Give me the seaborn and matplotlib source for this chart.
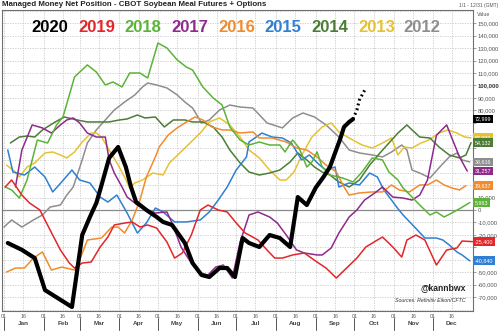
import matplotlib
matplotlib.use("Agg")
import matplotlib.pyplot as plt
import seaborn as sns
import numpy as np

sns.set_style("white")
plt.rcParams['font.family'] = ['Liberation Sans', 'DejaVu Sans']

# ---------------- data (day of year, value in thousands of contracts) ----------------
d2020 = [3, 14, 24, 32, 53, 61, 67, 72, 75, 82, 89, 95, 99, 103, 111, 119, 124, 131, 141, 147,
         154, 160, 168, 174, 180, 186, 191, 199, 207, 215, 223, 229, 236, 243, 249, 254, 258,
         262, 265, 269, 272]
v2020 = [-26.5, -32, -38.6, -64.3, -77.9, -20.1, -5.6, 5.6, 16.1, 41.8, 50.6, 34.5, 18.5, 6.4,
         0, -5.6, -9.6, -12, -26.5, -42.6, -52.2, -53.8, -46.6, -46.6, -53.8, -22.5, -26.5,
         -29.7, -20.1, -22.5, -29.7, 10.4, 4, 18, 26.5, 34.5, 45.8, 57, 66.7, 70.7, 73.0]
d2020_proj = [272, 275, 277, 282]
v2020_proj = [73.0, 80.3, 88.4, 98]

d2019 = [1, 6, 14, 20, 28, 36, 44, 51, 55, 61, 68, 75, 81, 86, 94, 100, 106, 112, 119, 127, 133,
         139, 146, 153, 159, 167, 174, 181, 188, 191, 198, 205, 211, 217, 225, 234, 244, 251,
         259, 267, 275, 282, 291, 295, 303, 310, 314, 321, 328, 337, 345, 353, 357, 365]
v2019 = [18.5, 24.1, 12, 5.6, 0, -16.1, -32.1, -42.6, -46.6, -42.6, -41.8, -29.7, -21.7, -12,
         -10.5, -9.6, -13.7, -12, -14.5, -25.7, -38.6, -34.5, -20.1, 0, 4, 0, -1.6, -10.4, -18.5,
         -20.1, -24.1, -32.1, -38.6, -38.6, -36.1, -34.5, -41.8, -46.6, -54.6, -46.6, -38.6,
         -29.7, -24.1, -21.7, -29.7, -37.8, -24.1, -20.1, -24.1, -44.2, -32.1, -30.5, -24.9, -25.4]

d2018 = [1, 6, 12, 18, 26, 34, 41, 46, 51, 55, 65, 72, 79, 85, 92, 98, 106, 112, 120, 127, 135,
         142, 147, 155, 163, 170, 176, 184, 191, 199, 207, 215, 219, 225, 230, 236, 240, 244,
         248, 254, 264, 272, 279, 287, 295, 300, 307, 311, 318, 324, 332, 337, 343, 349, 356, 363]
v2018 = [18.5, 16.1, 9.6, 24.1, 56.2, 53.8, 68.3, 74.7, 92.4, 106.8, 116.5, 110.8, 100.4, 102.8,
         98.8, 110, 110, 106, 134.1, 130.1, 120.5, 114.9, 112.4, 98.8, 90, 84.3, 66.7, 56.2, 52.2,
         54.6, 52.2, 52.2, 46.6, 56.2, 49.8, 34.5, 38.6, 46.6, 34.5, 28.1, 25.7, 22.5, 30.5, 41.8,
         40.2, 30.5, 24.1, 17.7, 10.4, 4, -4, -1.6, -5.6, -2.4, 1.6, 5.963]

d2017 = [9, 14, 22, 30, 37, 44, 49, 54, 59, 65, 72, 79, 82, 86, 92, 96, 104, 111, 118, 127, 131,
         138, 146, 153, 159, 165, 171, 178, 184, 189, 191, 198, 207, 213, 220, 228, 234, 244,
         248, 255, 261, 269, 275, 281, 289, 295, 303, 311, 318, 324, 330, 337, 345, 349, 355, 361]
v2017 = [18.5, 48.2, 68.3, 65.9, 61.8, 68.3, 72.3, 73.9, 69.9, 61.8, 58.6, 58.6, 40.2, 29.7,
         18.5, 10.4, 4, 0, -2.4, -1.6, -10.4, -29.7, -42.6, -50.6, -52.2, -45.8, -44.2, -54.6,
         -25.7, -10.4, -4, -1.6, -5.6, -10.4, -20.1, -32.1, -34.5, -36.1, -36.1, -30.5, -18.5,
         -5.6, 0, 8, 13.7, 18.5, 10.4, 9.6, 8, 12, 24, 60, 68.3, 57.8, 42.6, 31.257]

d2016 = [2, 9, 16, 23, 30, 37, 45, 55, 59, 65, 76, 84, 89, 94, 100, 106, 111, 118, 121, 128, 135,
         141, 149, 155, 162, 170, 176, 184, 194, 199, 209, 220, 228, 236, 244, 251, 259, 265,
         269, 277, 287, 295, 302, 308, 316, 324, 330, 337, 343, 349, 355, 360]
v2016 = [-49.8, -46.6, -46.6, -38.6, -33.7, -48.2, -45.8, -48.2, -40.2, -24.1, -22.5, -13.7,
         -13.7, -18.5, -8, 8, 26.5, 42.6, 50.6, 60.2, 65.9, 69.9, 74.7, 72.3, 66.7, 64.3, 64.3,
         61.8, 62.7, 57.8, 57.8, 54.6, 49.8, 48.2, 42.6, 36.1, 30.5, 18.5, 12, 13.7, 14.5, 14.5,
         20.1, 16.1, 14.5, 20.1, 20.1, 24.1, 20.1, 17.7, 16.1, 19.637]

d2015 = [3, 7, 16, 24, 32, 38, 45, 53, 59, 67, 75, 81, 88, 96, 104, 111, 118, 124, 133, 142, 153,
         160, 167, 174, 181, 189, 191, 201, 209, 217, 224, 232, 238, 246, 251, 258, 261, 269,
         277, 285, 291, 296, 302, 306, 311, 320, 328, 337, 342, 347, 353, 357, 363]
v2015 = [48.2, 30.5, 28.1, 34.5, 26.5, 14.5, 22.5, 32.1, 24.1, 21.7, 10.4, 6.4, 12, -2.4, -18.5,
         -10.4, 1.6, -1.6, -9.6, -9.6, -8, -1.6, 8, 18.5, 32.1, 42.6, 54.6, 61.8, 58.6, 57.8,
         53.8, 40.2, 44.2, 36.1, 32.1, 34.5, 18.5, 21.7, 20.1, 29.7, 26.5, 16.1, 8, 2.4, -4,
         -13.7, -22.5, -22.5, -24.1, -28.1, -33.7, -36.1, -40.84]

d2014 = [5, 12, 18, 24, 30, 40, 47, 57, 65, 75, 82, 90, 96, 104, 110, 118, 125, 132, 141, 147,
         155, 163, 170, 176, 184, 191, 199, 207, 215, 223, 229, 236, 242, 248, 254, 261, 269,
         277, 285, 293, 300, 307, 314, 318, 324, 332, 339, 347, 355, 360, 364]
v2014 = [53.8, 58.6, 59.4, 58.6, 64.3, 70.7, 74.7, 72.3, 70.7, 70.7, 70.7, 72.3, 73.1, 76.3,
         73.9, 74.7, 66.7, 72.3, 72.3, 70.7, 70.7, 66.7, 58.6, 48.2, 37.8, 30.5, 28.1, 29.7,
         32.1, 38.6, 45.8, 40.2, 34.5, 30.5, 28.1, 22.5, 18.5, 24.1, 36.1, 45.8, 53.8, 61.8,
         68.3, 64.3, 58.6, 57.8, 50.6, 44.2, 41.8, 44.2, 54.132]

d2013 = [2, 9, 12, 18, 24, 32, 38, 44, 49, 55, 61, 68, 72, 76, 82, 89, 94, 98, 102, 108, 116, 124,
         129, 137, 145, 153, 160, 168, 176, 184, 191, 199, 207, 215, 220, 226, 233, 240, 248,
         255, 261, 269, 279, 287, 295, 302, 307, 312, 318, 325, 331, 339, 346, 353, 359, 364]
v2013 = [36.1, 30.5, 26.5, 34.5, 37.8, 45.8, 46.6, 44.2, 41.8, 46.6, 54.6, 61.8, 61.8, 58.6,
         48.2, 36.1, 26.5, 17.7, 21.7, 24.1, 29.7, 28.1, 37.8, 45.8, 53.8, 61.8, 70.7, 73.9,
         68.3, 58.6, 48.2, 41.8, 32.1, 24.1, 24.1, 30.5, 45.8, 58.6, 66.7, 69.9, 62.7, 57.8,
         52.2, 49.8, 53.8, 57.8, 44.2, 50.6, 49.8, 53.8, 56.2, 61.8, 64.3, 61.8, 58.6, 57.931]

d2012 = [0, 6, 14, 23, 30, 36, 44, 49, 54, 61, 65, 72, 79, 86, 94, 102, 108, 112, 119, 127, 135,
         141, 147, 154, 160, 168, 176, 184, 194, 205, 217, 225, 233, 242, 251, 261, 269, 277,
         287, 295, 302, 310, 314, 318, 324, 332, 334, 341, 347, 353, 357, 363]
v2012 = [-13.7, -8, -13.7, -8, -4, 2.4, 4, 12, 18.5, 40.2, 53.8, 64.3, 72.3, 80.3, 86.7, 92.4,
         98.8, 102, 100.4, 98, 92.4, 86.7, 81.9, 69.9, 72.3, 80.3, 84.3, 82.7, 81.9, 69.9, 65.9,
         73.9, 77.9, 74.7, 68.3, 58.6, 48.2, 45.8, 44.2, 42.6, 46.6, 52.2, 48.2, 32.1, 29.7,
         25.7, 28.1, 36.1, 42.6, 45.8, 40.2, 38.6]

years = ["2020", "2019", "2018", "2017", "2016", "2015", "2014", "2013", "2012"]
colors = {"2020": "#000000", "2019": "#e3262a", "2018": "#5cb338", "2017": "#8e2a8c",
          "2016": "#f08c2e", "2015": "#2f7fd3", "2014": "#4b7d36", "2013": "#e6c233",
          "2012": "#8e8e8e"}
series = {"2020": (d2020, v2020), "2019": (d2019, v2019), "2018": (d2018, v2018),
          "2017": (d2017, v2017), "2016": (d2016, v2016), "2015": (d2015, v2015),
          "2014": (d2014, v2014), "2013": (d2013, v2013), "2012": (d2012, v2012)}

months = ["Jan", "Feb", "Mar", "Apr", "May", "Jun", "Jul", "Aug", "Sep", "Oct", "Nov", "Dec"]
month_start = [0, 31, 59, 90, 120, 151, 181, 212, 243, 273, 304, 334]

# ---------------- figure ----------------
fig = plt.figure(figsize=(5, 3.31), dpi=100)
ax = fig.add_axes([0.004, 20 / 331, 0.942, 301 / 331])

ymin, ymax = -81.1, 160.6
ax.set_xlim(-1.5, 365.5)
ax.set_ylim(ymin, ymax)

# grid
for v in range(-80, 161, 10):
    ax.axhline(v, color="#c8c8c8", lw=0.6, ls=(0, (1.5, 1.5)), zorder=0)
xt = []
for m in month_start:
    xt += [m, m + 15]
for t in xt:
    ax.axvline(t, color="#c8c8c8", lw=0.6, ls=(0, (1.5, 1.5)), zorder=0)
ax.axhline(0, color="#8a8a8a", lw=0.9, zorder=1)

# series
for yr in reversed(years):
    d, v = series[yr]
    sns.lineplot(x=d, y=v, ax=ax, color=colors[yr], lw=3.0 if yr == "2020" else 1.1,
                 estimator=None, sort=False, zorder=5 if yr == "2020" else 3)
sns.lineplot(x=d2020_proj, y=v2020_proj, ax=ax, color="black", lw=2.2,
             ls=(0, (0.6, 1.0)), estimator=None, sort=False, zorder=5)

# axes styling
for s in ax.spines.values():
    s.set_color("#707070")
    s.set_linewidth(0.8)
ax.yaxis.tick_right()
yt = list(range(-70, 151, 10))
hidden = {70, 60, 50, 40, 30, 20, -30, -40}
ax.set_yticks(yt)
ax.set_yticklabels(["" if t in hidden else f"{t * 1000:,}" for t in yt], fontsize=4.2,
                   color="#555555")
for lab, t in zip(ax.get_yticklabels(), yt):
    if t == 100:
        lab.set_fontweight("bold")
        lab.set_fontsize(4.2)
        lab.set_color("#333333")
ax.tick_params(axis="y", which="both", length=2.5, width=0.5, color="#777777", pad=1.0,
               right=True, left=False)
ax.set_xticks(xt)
ax.set_xticklabels(["01", "16"] * 12, fontsize=3.8, color="#555555")
ax.tick_params(axis="x", length=0, pad=2.0)
ax.set_xlabel("")
ax.set_ylabel("")

tr = ax.get_xaxis_transform()
for name, m in zip(months, month_start):
    mid = m + 15
    ax.text(mid, -0.041, name, transform=tr, ha="center", va="center", fontsize=4.6,
            color="#444444", fontweight="bold")
    ax.plot([m, m], [-0.022, -0.062], transform=tr, color="#555555", lw=0.7, clip_on=False)

# legend text row
lx = [50, 97, 143, 190, 237, 283, 330, 377, 422]
for yr, x in zip(years, lx):
    fig.text(x / 500, 1 - 27 / 331, yr, color=colors[yr], fontsize=12, ha="center",
             va="center", fontweight="bold")

# title and corner text
fig.text(2 / 500, 1 - 5 / 331, "Managed Money Net Position - CBOT Soybean Meal Futures + Options",
         fontsize=5.7, fontweight="bold", color="#222222", ha="left", va="center")
fig.text(498 / 500, 1 - 5 / 331, "1/1 - 12/31 (GMT)", fontsize=3.6, color="#555555",
         ha="right", va="center")
fig.text(477 / 500, 1 - 14 / 331, "Value", fontsize=3.8, color="#555555", ha="left",
         va="center")

# last-value tags
ytr = ax.get_yaxis_transform()
tags = [("2020", 72.999, "72,999"), ("2013", 57.931, "57,931"), ("2014", 54.132, "54,132"),
        ("2012", 38.6, "38,616"), ("2017", 31.257, "31,257"), ("2016", 19.637, "19,637"),
        ("2018", 5.963, "5,963"), ("2019", -25.4, "-25,400"), ("2015", -40.84, "-40,840")]
for yr, val, txt in tags:
    ax.text(1.003, val, txt, transform=ytr, fontsize=3.9, color="white", ha="left",
            va="center", zorder=10, clip_on=False,
            bbox=dict(boxstyle="square,pad=0.35", fc=colors[yr], ec="none"))

ax.text(0.985, -62.5, "@kannbwx", transform=ytr, fontsize=6.2, fontweight="bold",
        ha="right", va="center", color="#222222")
ax.text(0.985, -72.5, "Sources: Refinitiv Eikon/CFTC", transform=ytr, fontsize=3.8,
        style="italic", ha="right", va="center", color="#333333")

fig.savefig("out.png", dpi=100, facecolor="white")
